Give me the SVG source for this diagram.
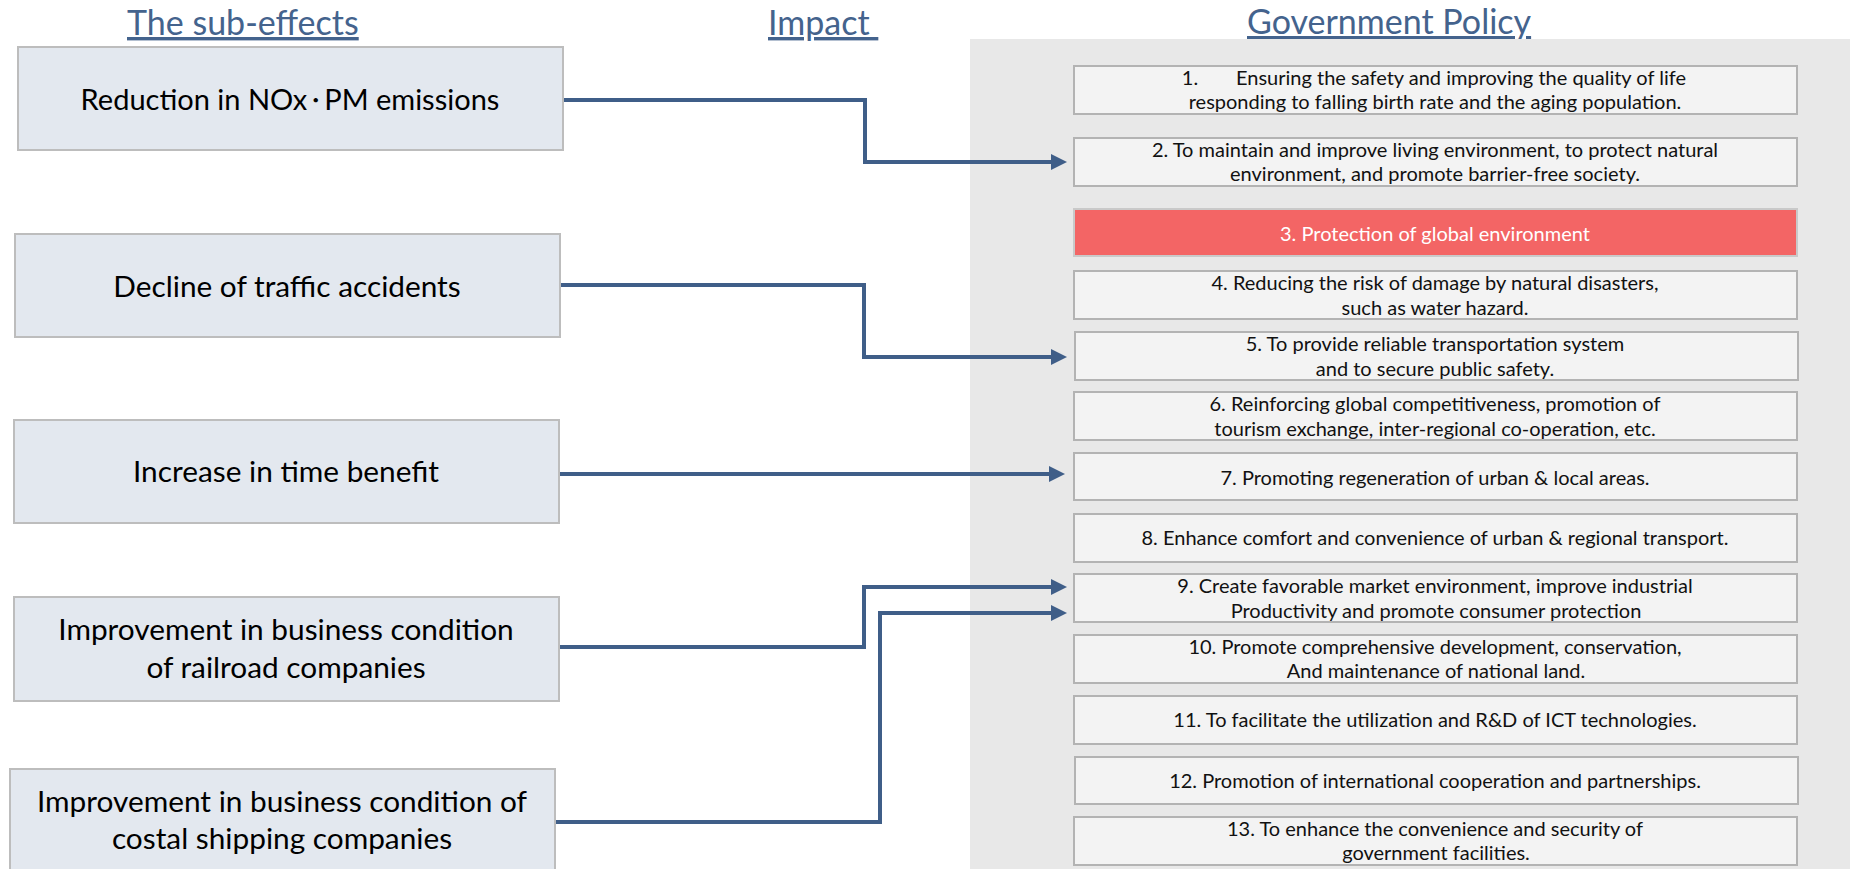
<svg xmlns="http://www.w3.org/2000/svg" width="1850" height="869" viewBox="0 0 1850 869">
  <style>
    .title { font-family: Lato, "Noto Sans", sans-serif; font-size: 34px; fill: #44638D; text-decoration: underline; white-space: pre; }
    .effect rect { fill: #E3E8EF; stroke: #BDBDBD; stroke-width: 2; }
    .effect text { font-family: Lato, "Noto Sans CJK JP", sans-serif; font-size: 29.8px; fill: #000; text-anchor: middle; }
    .effect text.tight { font-size: 29px; }
    .effect .dot { font-size: 17px; font-weight: 700; }
    .policy rect { fill: #F3F3F3; stroke: #B3B3B3; stroke-width: 2; }
    .policy text { font-family: Lato, "Noto Sans", sans-serif; font-size: 20px; fill: #111; text-anchor: middle; }
    .policy.hot rect { fill: #F36565; stroke: #C9C9C9; }
    .policy.hot text { fill: #FFFFFF; }
    .link { fill: none; stroke: #3F5E88; stroke-width: 4; stroke-linejoin: miter; marker-end: url(#arrow); }
  </style>
  <defs>
    <marker id="arrow" markerUnits="userSpaceOnUse" markerWidth="16" markerHeight="16" refX="4" refY="8" orient="auto">
      <path d="M0,0 L16,8 L0,16 Z" fill="#3F5E88"/>
    </marker>
  </defs>

  <rect width="1850" height="869" fill="#FFFFFF"/>

  <!-- column headings -->
  <g id="headings">
    <text class="title" x="127" y="35">The sub-effects</text>
    <text class="title" x="768" y="35">Impact </text>
    <text class="title" x="1247" y="34">Government Policy</text>
  </g>

  <!-- background of the policy column -->
  <rect id="policy-panel" x="970" y="39" width="880" height="830" fill="#E8E8E8"/>

  <!-- policy list -->
  <g id="policy-1" class="policy">
    <rect x="1074" y="66" width="723" height="48"/>
    <text y="85"><tspan x="1190" style="text-anchor:middle">1.</tspan><tspan x="1461">Ensuring the safety and improving the quality of life</tspan></text>
    <text x="1435" y="109">responding to falling birth rate and the aging population.</text>
  </g>
  <g id="policy-2" class="policy">
    <rect x="1074" y="138" width="723" height="48"/>
    <text x="1435" y="157">2. To maintain and improve living environment, to protect natural</text>
    <text x="1435" y="181">environment, and promote barrier-free society.</text>
  </g>
  <g id="policy-3" class="policy hot">
    <rect x="1074" y="209" width="723" height="47"/>
    <text x="1435" y="241">3. Protection of global environment</text>
  </g>
  <g id="policy-4" class="policy">
    <rect x="1074" y="271" width="723" height="48"/>
    <text x="1435" y="290">4. Reducing the risk of damage by natural disasters,</text>
    <text x="1435" y="315">such as water hazard.</text>
  </g>
  <g id="policy-5" class="policy">
    <rect x="1075" y="332" width="723" height="48"/>
    <text x="1435" y="351">5. To provide reliable transportation system</text>
    <text x="1435" y="376">and to secure public safety.</text>
  </g>
  <g id="policy-6" class="policy">
    <rect x="1074" y="392" width="723" height="48"/>
    <text x="1435" y="411">6. Reinforcing global competitiveness, promotion of</text>
    <text x="1435" y="436">tourism exchange, inter-regional co-operation, etc.</text>
  </g>
  <g id="policy-7" class="policy">
    <rect x="1074" y="453" width="723" height="47"/>
    <text x="1435" y="485">7. Promoting regeneration of urban &amp; local areas.</text>
  </g>
  <g id="policy-8" class="policy">
    <rect x="1074" y="514" width="723" height="48"/>
    <text x="1435" y="545">8. Enhance comfort and convenience of urban &amp; regional transport.</text>
  </g>
  <g id="policy-9" class="policy">
    <rect x="1074" y="574" width="723" height="48"/>
    <text x="1435" y="593">9. Create favorable market environment, improve industrial</text>
    <text x="1436" y="618">Productivity and promote consumer protection</text>
  </g>
  <g id="policy-10" class="policy">
    <rect x="1074" y="635" width="723" height="48"/>
    <text x="1435" y="654">10. Promote comprehensive development, conservation,</text>
    <text x="1436" y="678">And maintenance of national land.</text>
  </g>
  <g id="policy-11" class="policy">
    <rect x="1074" y="696" width="723" height="48"/>
    <text x="1435" y="727">11. To facilitate the utilization and R&amp;D of ICT technologies.</text>
  </g>
  <g id="policy-12" class="policy">
    <rect x="1075" y="757" width="723" height="47"/>
    <text x="1435" y="788">12. Promotion of international cooperation and partnerships.</text>
  </g>
  <g id="policy-13" class="policy">
    <rect x="1074" y="817" width="723" height="48"/>
    <text x="1435" y="836">13. To enhance the convenience and security of</text>
    <text x="1436" y="860">government facilities.</text>
  </g>

  <!-- elbow connectors from sub-effects to policies -->
  <g id="connectors">
    <path class="link" d="M563,100 H865 V162 H1055"/>
    <path class="link" d="M560,285 H864 V357 H1055"/>
    <path class="link" d="M559,474 H1053"/>
    <path class="link" d="M559,647 H864 V587 H1055"/>
    <path class="link" d="M555,822 H880 V613 H1055"/>
  </g>

  <!-- sub-effect boxes -->
  <g id="effect-emissions" class="effect">
    <rect x="18" y="47" width="545" height="103"/>
    <text class="tight" x="290" y="110">Reduction in NOx<tspan class="dot" dy="-3">・</tspan><tspan dy="3">PM emissions</tspan></text>
  </g>
  <g id="effect-accidents" class="effect">
    <rect x="15" y="234" width="545" height="103"/>
    <text x="287" y="297">Decline of traffic accidents</text>
  </g>
  <g id="effect-time" class="effect">
    <rect x="14" y="420" width="545" height="103"/>
    <text x="286" y="482">Increase in time benefit</text>
  </g>
  <g id="effect-railroad" class="effect">
    <rect x="14" y="597" width="545" height="104"/>
    <text x="286" y="640">Improvement in business condition</text>
    <text x="286" y="678">of railroad companies</text>
  </g>
  <g id="effect-shipping" class="effect">
    <rect x="10" y="769" width="545" height="104"/>
    <text x="282" y="812">Improvement in business condition of</text>
    <text x="282" y="849">costal shipping companies</text>
  </g>
</svg>
